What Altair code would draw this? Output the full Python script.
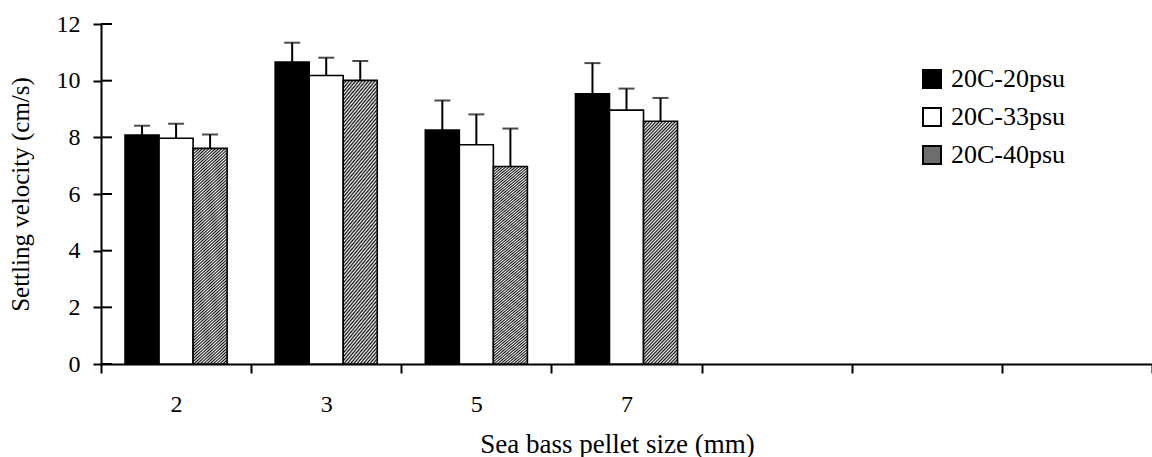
import altair as alt
import pandas as pd

# ---- data ----
sizes = ["2", "3", "5", "7"]
slots = ["2", "3", "5", "7", " ", "  ", "   "]          # 3 empty slots on the right
series = ["20C-20psu", "20C-33psu", "20C-40psu"]
v20 = [8.08, 10.66, 8.26, 9.54]
v33 = [7.97, 10.18, 7.74, 8.96]
v40 = [7.61, 10.01, 6.97, 8.57]
e20 = [0.33, 0.68, 1.04, 1.08]
e33 = [0.51, 0.63, 1.07, 0.76]
e40 = [0.49, 0.68, 1.34, 0.82]
yticks = [0, 2, 4, 6, 8, 10, 12]

rows = []
for s, vals, errs in zip(series, [v20, v33, v40], [e20, e33, e40]):
    for c, v, e in zip(sizes, vals, errs):
        rows.append({"size": c, "series": s, "value": v, "upper": round(v + e, 3)})
df = pd.DataFrame(rows)
tick_df = pd.DataFrame({"value": yticks})

FONT = "Liberation Serif, Times New Roman, serif"


def stripes(n, x2, y2):
    # soft-edged diagonal stripes (reduces aliasing)
    stops = []
    for i in range(n):
        stops.append({"offset": round(i / n, 5), "color": "#111111"})
        stops.append({"offset": round((i + 0.5) / n, 5), "color": "#f4f4f4"})
    stops.append({"offset": 1, "color": "#111111"})
    return {"gradient": "linear", "x1": 0, "y1": 0, "x2": x2, "y2": y2, "stops": stops}


bar_hatch = stripes(84, 0.1635, 1.13)

x_enc = alt.X(
    "size:N",
    scale=alt.Scale(domain=slots, paddingInner=0, paddingOuter=0),
    axis=alt.Axis(
        title="Sea bass pellet size (mm)",
        labelAngle=0,
        labelFontSize=24,
        tickSize=9,
        labelPadding=19,
        tickBand="extent",
        titleFontSize=27,
        titleX=516,
        titleY=88,
        titleAlign="center",
        titleBaseline="alphabetic",
    ),
)
xo_enc = alt.XOffset(
    "series:N", scale=alt.Scale(domain=series, paddingInner=0, paddingOuter=0.706)
)
y_enc = alt.Y(
    "value:Q",
    scale=alt.Scale(domain=[0, 12], nice=False),
    axis=alt.Axis(
        title="Settling velocity (cm/s)",
        values=yticks,
        labelFontSize=24,
        tickSize=8,
        labelPadding=13,
        titleFontSize=25,
        titleX=-81,
        titleY=170,
        titleAlign="center",
        titleBaseline="middle",
    ),
)

legend = alt.Legend(
    title=None,
    orient="none",
    legendX=818,
    legendY=42,
    symbolType="square",
    symbolSize=324,
    symbolStrokeColor="black",
    symbolStrokeWidth=2,
    symbolOpacity=1,
    labelFont=FONT,
    labelFontSize=26,
    labelColor="black",
    labelOffset=6,
    rowPadding=12,
    padding=0,
)

fill_enc = alt.condition(
    "datum.series === '20C-40psu'",
    alt.value(bar_hatch),
    alt.Fill(
        "series:N",
        scale=alt.Scale(domain=series, range=["black", "white", "#6e6e6e"]),
        legend=legend,
    ),
)

bars = alt.Chart(df).mark_bar(stroke="black", strokeWidth=1.6).encode(
    x=x_enc, xOffset=xo_enc, y=y_enc, fill=fill_enc
)

err_line = alt.Chart(df).mark_rule(color="black", strokeWidth=2).encode(
    x=x_enc, xOffset=xo_enc, y=alt.Y("value:Q"), y2="upper:Q"
)
err_cap = alt.Chart(df).mark_tick(
    color="black", thickness=2, size=16, orient="horizontal"
).encode(x=x_enc, xOffset=xo_enc, y=alt.Y("upper:Q"))

inner_ticks = alt.Chart(tick_df).mark_rule(color="black", strokeWidth=2).encode(
    y=alt.Y("value:Q"), x=alt.value(0), x2=alt.value(11)
)

chart = (
    alt.layer(bars, err_line, err_cap, inner_ticks)
    .properties(
        width=1051,
        height=340,
        padding={"left": 101, "top": 24, "right": 0, "bottom": 93},
        autosize=alt.AutoSizeParams(type="none"),
        background="white",
    )
    .configure_view(stroke=None)
    .configure_axis(
        grid=False,
        domainColor="black",
        domainWidth=2,
        tickColor="black",
        tickWidth=2,
        labelColor="black",
        labelFont=FONT,
        titleFont=FONT,
        titleColor="black",
        titleFontWeight="normal",
    )
)

chart.save("out.html", embed_options={"renderer": "svg", "actions": False})
